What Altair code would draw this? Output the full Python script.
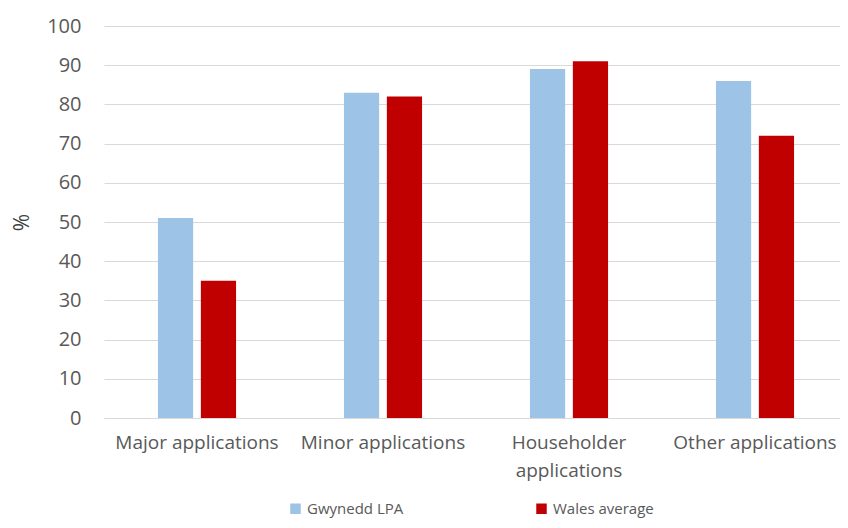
import altair as alt
import pandas as pd

categories = ["Major applications", "Minor applications", "Householder applications", "Other applications"]
series = ["Gwynedd LPA", "Wales average"]
gwynedd = [51, 83, 89, 86]
wales = [35, 82, 91, 72]
colors = ["#9DC3E6", "#C00000"]

rows = []
for c, g, w in zip(categories, gwynedd, wales):
    rows.append({"category": c, "series": series[0], "value": g})
    rows.append({"category": c, "series": series[1], "value": w})
df = pd.DataFrame(rows)

font = "Open Sans"

chart = alt.Chart(df).mark_bar().encode(
    x=alt.X("category:N", sort=categories, title=None,
            scale=alt.Scale(paddingInner=0.58, paddingOuter=0.29, range=[0, 744]),
            axis=alt.Axis(labelAngle=0, labelFontSize=19, labelColor="#595959", labelFont=font,
                          labelPadding=15, ticks=False, domainColor="#D9D9D9", labelLimit=300,
                          labelExpr="datum.value == 'Householder applications' ? ['Householder', 'applications'] : datum.value",
                          labelLineHeight=28)),
    xOffset=alt.XOffset("series:N", sort=series, scale=alt.Scale(paddingInner=0.18)),
    y=alt.Y("value:Q", title="%", scale=alt.Scale(domain=[0, 100]),
            axis=alt.Axis(values=list(range(0, 101, 10)), labelFontSize=20, labelColor="#595959",
                          labelFont=font, labelPadding=23, ticks=False, domain=False,
                          gridColor="#D9D9D9", titleFontSize=21, titleColor="#404040",
                          titleFont=font, titleFontWeight="normal", titlePadding=14)),
    color=alt.Color("series:N", sort=series, scale=alt.Scale(domain=series, range=colors),
                    legend=alt.Legend(title=None, orient="none", direction="horizontal",
                                      legendX=184, legendY=475, symbolType="square", symbolSize=110,
                                      labelFontSize=15, labelFont=font, labelColor="#595959",
                                      columnPadding=130, symbolStrokeWidth=0)),
).properties(
    width=736, height=392,
    autosize=alt.AutoSizeParams(type="none"),
    padding={"left": 96, "top": 18, "right": 0, "bottom": 102},
).configure_view(stroke=None)

chart.save("out.html", embed_options={"renderer": "svg", "actions": False})
